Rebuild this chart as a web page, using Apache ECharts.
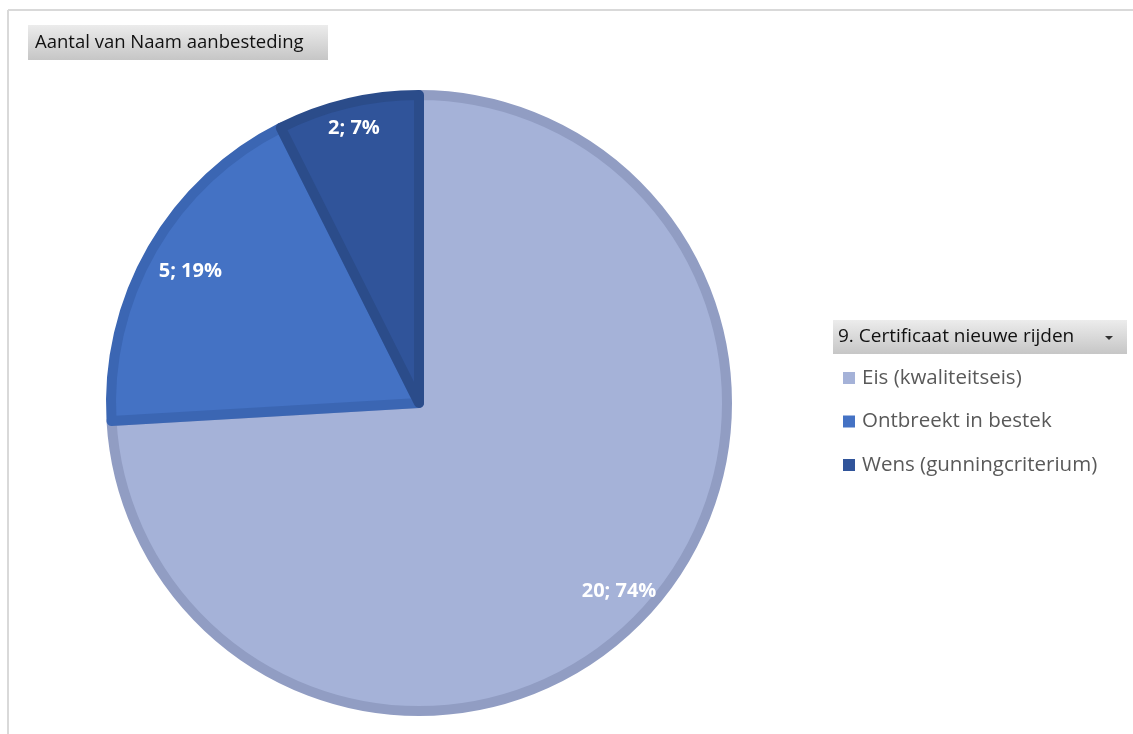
<!DOCTYPE html>
<html>
<head>
<meta charset="utf-8">
<script src="https://cdn.jsdelivr.net/npm/echarts@6/dist/echarts.min.js"></script>
<style>
  html, body { margin: 0; padding: 0; background: #fff; }
  #chart { width: 1133px; height: 734px; }
</style>
</head>
<body>
<div id="chart"></div>
<script>
// Slices of the pivot pie, in drawing order (clockwise from 12 o'clock)
const categories = ['Eis (kwaliteitseis)', 'Ontbreekt in bestek', 'Wens (gunningcriterium)'];
const counts = [20, 5, 2];
const fillColors = ['#A5B2D8', '#4472C4', '#30549A'];
const edgeColors = ['#919DC3', '#3B66B3', '#2B4C8A'];
const fieldTitle = 'Aantal van Naam aanbesteding';
const filterTitle = '9. Certificaat nieuwe rijden';

// layout
const CX = 419, CY = 403, R = 308;
const labelRadius = [275, 264, 282];
const FONT = '"Open Sans", "Noto Sans", sans-serif';

const total = counts.reduce((a, b) => a + b, 0);
const pieData = categories.map((name, i) => ({
  name: name,
  value: counts[i],
  itemStyle: { color: fillColors[i], borderColor: edgeColors[i] }
}));

const chart = echarts.init(document.getElementById('chart'), null, { renderer: 'canvas' });

const buttonGradient = new echarts.graphic.LinearGradient(0, 0, 0, 1, [
  { offset: 0, color: '#ececec' },
  { offset: 1, color: '#c6c6c6' }
]);

chart.setOption({
  backgroundColor: '#ffffff',
  animation: false,
  legend: {
    orient: 'vertical',
    left: 843,
    top: 366,
    padding: 0,
    icon: 'rect',
    itemWidth: 12,
    itemHeight: 12,
    itemGap: 19.5,
    selectedMode: false,
    data: categories,
    itemStyle: { borderWidth: 0 },
    textStyle: {
      fontFamily: FONT,
      fontSize: 20.5,
      lineHeight: 24,
      color: '#595959',
      padding: [0, 0, 0, 2]
    }
  },
  series: [{
    type: 'pie',
    center: [CX, CY],
    radius: [0, R],
    startAngle: 90,
    clockwise: true,
    avoidLabelOverlap: false,
    emphasis: { disabled: true },
    itemStyle: { borderWidth: 10, borderJoin: 'round' },
    label: {
      show: true,
      position: 'inside',
      color: '#ffffff',
      fontFamily: FONT,
      fontWeight: 'bold',
      fontSize: 20,
      formatter: p => p.value + '; ' + Math.round(p.value / total * 100) + '%'
    },
    labelLine: { show: false },
    labelLayout: function (params) {
      const r = params.labelRect;
      const lx = r.x + r.width / 2, ly = r.y + r.height / 2;
      const dx = lx - CX, dy = ly - CY;
      const d = Math.sqrt(dx * dx + dy * dy) || 1;
      const k = labelRadius[params.dataIndex] / d;
      return { x: CX + dx * k, y: CY + dy * k, align: 'center', verticalAlign: 'middle' };
    },
    data: pieData
  }],
  graphic: [
    // chart area frame (top and left edges)
    { type: 'line', shape: { x1: 8, y1: 10, x2: 1133, y2: 10 }, style: { stroke: '#d9d9d9', lineWidth: 2 }, silent: true },
    { type: 'line', shape: { x1: 8, y1: 10, x2: 8, y2: 734 }, style: { stroke: '#d9d9d9', lineWidth: 2 }, silent: true },
    // value field button
    { type: 'rect', shape: { x: 28, y: 25, width: 300, height: 35 }, style: { fill: buttonGradient }, silent: true },
    { type: 'text', x: 35, y: 43, style: { text: fieldTitle, fill: '#111', font: '18.5px ' + FONT, verticalAlign: 'middle' }, silent: true },
    // legend field button with dropdown arrow
    { type: 'rect', shape: { x: 833, y: 320, width: 294, height: 34 }, style: { fill: buttonGradient }, silent: true },
    { type: 'text', x: 838, y: 337, style: { text: filterTitle, fill: '#111', font: '19px ' + FONT, verticalAlign: 'middle' }, silent: true },
    { type: 'polygon', shape: { points: [[1105, 336], [1113, 336], [1109, 340]] }, style: { fill: '#333' }, silent: true }
  ]
});
</script>
</body>
</html>
